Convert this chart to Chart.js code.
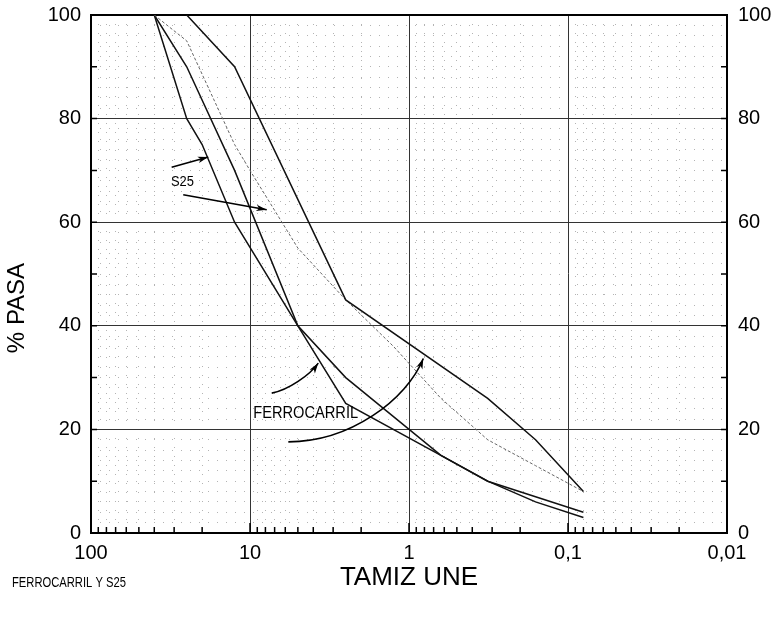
<!DOCTYPE html>
<html>
<head>
<meta charset="utf-8">
<script src="https://cdn.jsdelivr.net/npm/chart.js@4"></script>
<style>
  body { margin: 0; background: #fff; }
  #wrap { width: 773px; height: 618px; position: relative; }
</style>
</head>
<body>
<div id="wrap"><canvas id="curveChart"></canvas></div>
<script>
// tamices UNE (mm) y % que pasa
const upperSizes = [25, 12.5, 2.5, 0.32, 0.16, 0.08];
const upperPass = [100, 90, 45, 26, 18, 8];

const s25Sizes = [40, 25, 12.5, 10, 5, 2.5, 1.25, 0.63, 0.32, 0.16, 0.08];
const s25Pass = [100, 95, 75, 70, 55, 45, 36, 26, 18, 13, 8];

const middleSizes = [40, 25, 12.5, 5, 2.5, 0.63, 0.32, 0.16, 0.08];
const middlePass = [100, 90, 70, 40, 30, 15, 10, 7, 4];

const lowerSizes = [40, 25, 20, 12.5, 5, 2.5, 0.63, 0.32, 0.16, 0.08];
const lowerPass = [100, 80, 75, 60, 40, 25, 15, 10, 6, 3];

const xTickValues = [100, 10, 1, 0.1, 0.01];
const xTickLabels = ['100', '10', '1', '0,1', '0,01'];
const yTickLabels = [0, 20, 40, 60, 80, 100];

// notas sobre el grafico, en unidades de los ejes (tamiz, % pasa)
const notes = [
    { text: 'S25', x: 26.6, y: 67.7, size: 15, align: 'center' },
    { text: 'FERROCARRIL', x: 9.53, y: 23.2, size: 17, align: 'left' }
];
const straightArrows = [
    [[31.1, 70.6], [18.3, 72.6]],
    [[26.3, 65.3], [7.85, 62.4]]
];
const curvedArrows = [
    [[7.30, 27.0], [5.74, 27.6], [4.20, 30.5], [3.72, 32.8]],
    [[5.74, 17.6], [2.35, 17.6], [1.034, 25.7], [0.813, 33.7]]
];

const fontFamily = "'Liberation Sans', Arial, Helvetica, sans-serif";
const narrow = 0.86; // la figura usa una letra estrecha

const toPoints = (sizes, pass) => sizes.map((s, i) => ({ x: s, y: pass[i] }));
const isDecade = v => Math.abs(Math.log10(v) - Math.round(Math.log10(v))) < 1e-6;

function xLabel(v) {
    const i = xTickValues.findIndex(t => Math.abs(t - v) / t < 1e-6);
    return i >= 0 ? xTickLabels[i] : '';
}

// 1..9 por decada, sin errores de coma flotante
function logTicks(scale) {
    const ticks = [];
    for (let e = -2; e <= 1; e++) {
        for (let m = 1; m <= 9; m++) {
            ticks.push({ value: Number((m * Math.pow(10, e)).toPrecision(3)) });
        }
    }
    ticks.push({ value: 100 });
    scale.ticks = ticks;
}

const lineStyle = {
    showLine: true,
    pointRadius: 0,
    fill: false,
    tension: 0,
    borderColor: '#111',
    borderWidth: 1.5
};

function narrowText(ctx, text, x, y, size, align, squeeze) {
    ctx.save();
    ctx.font = size + 'px ' + fontFamily;
    ctx.textAlign = align;
    ctx.textBaseline = 'middle';
    ctx.translate(x, y);
    ctx.scale(squeeze || narrow, 1);
    ctx.fillText(text, 0, 0);
    ctx.restore();
}

// marcas interiores, textos y flechas
const extras = {
    id: 'extras',
    afterDraw(chart) {
        const ctx = chart.ctx;
        const area = chart.chartArea;
        const xs = chart.scales.x;
        const ys = chart.scales.y;
        const px = v => xs.getPixelForValue(v);
        const py = v => ys.getPixelForValue(v);

        ctx.save();
        ctx.strokeStyle = '#000';
        ctx.lineWidth = 1.5;
        ctx.beginPath();
        xs.ticks.forEach(t => {
            const x = px(t.value);
            const len = isDecade(t.value) ? 10 : 6;
            ctx.moveTo(x, area.bottom);
            ctx.lineTo(x, area.bottom - len);
        });
        for (let v = 10; v < 100; v += 10) {
            ctx.moveTo(area.left, py(v));
            ctx.lineTo(area.left + 6, py(v));
            ctx.moveTo(area.right, py(v));
            ctx.lineTo(area.right - 6, py(v));
        }
        ctx.stroke();

        ctx.fillStyle = '#000';
        notes.forEach(n => narrowText(ctx, n.text, px(n.x), py(n.y), n.size, n.align));
        narrowText(ctx, 'FERROCARRIL Y S25', 12, 583, 14, 'left', 0.8);

        // titulo del eje vertical
        ctx.save();
        ctx.translate(17, 308);
        ctx.rotate(-Math.PI / 2);
        ctx.font = '24px ' + fontFamily;
        ctx.textAlign = 'center';
        ctx.textBaseline = 'middle';
        ctx.fillText('% PASA', 0, 0);
        ctx.restore();

        function head(fromX, fromY, toX, toY) {
            const a = Math.atan2(toY - fromY, toX - fromX);
            const l = 11, w = 0.3;
            ctx.beginPath();
            ctx.moveTo(toX, toY);
            ctx.lineTo(toX - l * Math.cos(a - w), toY - l * Math.sin(a - w));
            ctx.lineTo(toX - l * 0.7 * Math.cos(a), toY - l * 0.7 * Math.sin(a));
            ctx.lineTo(toX - l * Math.cos(a + w), toY - l * Math.sin(a + w));
            ctx.closePath();
            ctx.fill();
        }

        ctx.lineWidth = 1.6;
        straightArrows.forEach(([a, b]) => {
            ctx.beginPath();
            ctx.moveTo(px(a[0]), py(a[1]));
            ctx.lineTo(px(b[0]), py(b[1]));
            ctx.stroke();
            head(px(a[0]), py(a[1]), px(b[0]), py(b[1]));
        });
        curvedArrows.forEach(([a, c1, c2, b]) => {
            ctx.beginPath();
            ctx.moveTo(px(a[0]), py(a[1]));
            ctx.bezierCurveTo(px(c1[0]), py(c1[1]), px(c2[0]), py(c2[1]), px(b[0]), py(b[1]));
            ctx.stroke();
            head(px(c2[0]), py(c2[1]), px(b[0]), py(b[1]));
        });
        ctx.restore();
    }
};

const tickFont = { family: fontFamily, size: 20 };
const noPad = s => { s.paddingTop = 0; s.paddingBottom = 0; };

new Chart(document.getElementById('curveChart'), {
    type: 'scatter',
    data: {
        datasets: [
            { label: 'Ferrocarril superior', data: toPoints(upperSizes, upperPass), ...lineStyle },
            { label: 'S25', data: toPoints(s25Sizes, s25Pass), ...lineStyle, borderColor: '#666', borderWidth: 1, borderDash: [3, 2] },
            { label: 'Ferrocarril medio', data: toPoints(middleSizes, middlePass), ...lineStyle },
            { label: 'Ferrocarril inferior', data: toPoints(lowerSizes, lowerPass), ...lineStyle }
        ]
    },
    options: {
        responsive: true,
        maintainAspectRatio: false,
        animation: false,
        layout: { padding: 0 },
        plugins: {
            legend: { display: false },
            tooltip: { enabled: false }
        },
        scales: {
            x: {
                type: 'logarithmic',
                position: 'bottom',
                min: 0.01,
                max: 100,
                reverse: true,
                afterBuildTicks: logTicks,
                afterFit: s => { s.height = 85; },
                ticks: {
                    autoSkip: false,
                    maxRotation: 0,
                    padding: 8,
                    color: '#000',
                    font: tickFont,
                    callback: v => xLabel(v)
                },
                grid: {
                    color: c => (c.tick && isDecade(c.tick.value)) ? '#333' : 'rgba(0,0,0,0)',
                    drawTicks: false
                },
                border: { color: '#000', width: 2, dash: [] },
                title: {
                    display: true,
                    text: 'TAMIZ UNE',
                    color: '#000',
                    font: { family: fontFamily, size: 26 },
                    padding: { top: 0, bottom: 25 }
                }
            },
            // rejilla punteada, dibujada por debajo de la rejilla principal
            xMinor: {
                type: 'logarithmic',
                position: 'bottom',
                min: 0.01,
                max: 100,
                reverse: true,
                afterBuildTicks: logTicks,
                afterFit: s => { s.height = 0; },
                ticks: { display: false, autoSkip: false },
                grid: {
                    z: -2,
                    color: c => (c.tick && !isDecade(c.tick.value)) ? '#b4b4b4' : 'rgba(0,0,0,0)',
                    drawTicks: false
                },
                border: { display: false, dash: [1, 8] }
            },
            xTop: {
                type: 'logarithmic',
                position: 'top',
                min: 0.01,
                max: 100,
                reverse: true,
                afterFit: s => { s.height = 15; },
                ticks: { display: false },
                grid: { display: false },
                border: { color: '#000', width: 2 }
            },
            y: {
                position: 'left',
                min: 0,
                max: 100,
                afterFit: s => { s.width = 91; noPad(s); },
                ticks: {
                    stepSize: 10,
                    padding: 10,
                    color: '#000',
                    font: tickFont,
                    callback: v => yTickLabels.includes(v) ? String(v) : ''
                },
                grid: {
                    color: c => (c.tick && c.tick.value % 20 === 0 && c.tick.value > 0 && c.tick.value < 100) ? '#333' : 'rgba(0,0,0,0)',
                    drawTicks: false
                },
                border: { color: '#000', width: 2 }
            },
            yMinor: {
                position: 'left',
                min: 0,
                max: 100,
                afterFit: s => { s.width = 0; noPad(s); },
                ticks: { display: false, stepSize: 2 },
                grid: {
                    z: -2,
                    color: c => (c.tick && c.tick.value % 20 !== 0) ? '#b4b4b4' : 'rgba(0,0,0,0)',
                    drawTicks: false
                },
                border: { display: false, dash: [1, 8] }
            },
            yRight: {
                position: 'right',
                min: 0,
                max: 100,
                afterFit: s => { s.width = 46; noPad(s); },
                ticks: {
                    stepSize: 10,
                    padding: 3,
                    color: '#000',
                    font: tickFont,
                    callback: v => yTickLabels.includes(v) ? String(v) : ''
                },
                grid: { display: false },
                border: { color: '#000', width: 2 }
            }
        }
    },
    plugins: [extras]
});
</script>
</body>
</html>
